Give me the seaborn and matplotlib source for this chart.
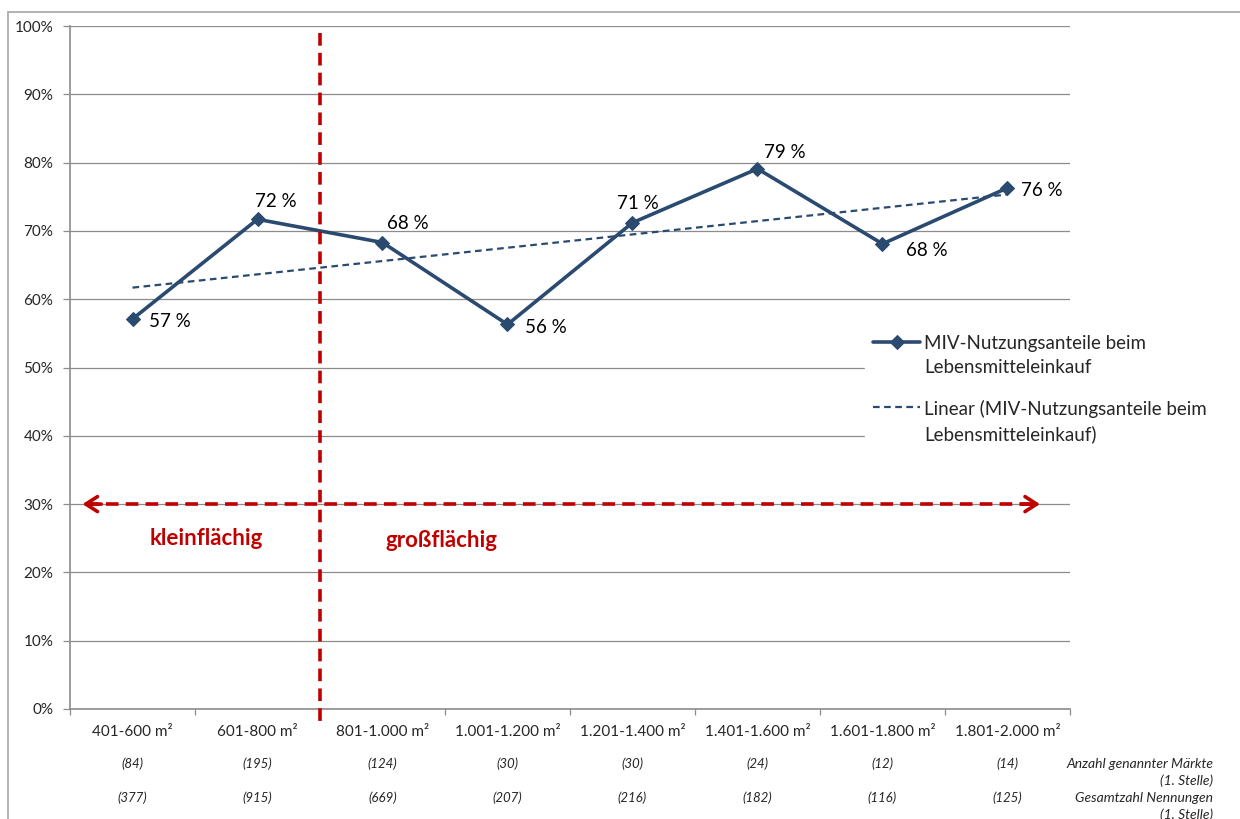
import numpy as np
import pandas as pd
import seaborn as sns
import matplotlib.pyplot as plt
from matplotlib.patches import Rectangle

# --- data ---------------------------------------------------------------
categories = ["401-600 m²", "601-800 m²", "801-1.000 m²", "1.001-1.200 m²",
              "1.201-1.400 m²", "1.401-1.600 m²", "1.601-1.800 m²", "1.801-2.000 m²"]
miv_share = [0.571, 0.717, 0.683, 0.563, 0.712, 0.791, 0.681, 0.763]
n_markets = [84, 195, 124, 30, 30, 24, 12, 14]
n_mentions = [377, 915, 669, 207, 216, 182, 116, 125]
y_ticks = [0.0, 0.1, 0.2, 0.3, 0.4, 0.5, 0.6, 0.7, 0.8, 0.9, 1.0]

series_name = "MIV-Nutzungsanteile beim\nLebensmitteleinkauf"
trend_name = "Linear (MIV-Nutzungsanteile beim\nLebensmitteleinkauf)"

NAVY = "#2B4A70"
RED = "#C00000"
GRID = "#8C8C8C"

sns.set_theme(style="white")
plt.rcParams["font.family"] = ["Lato", "DejaVu Sans"]

W, H = 1240, 819
fig = plt.figure(figsize=(W / 100, H / 100), dpi=100)
ax = fig.add_axes([70 / W, (H - 709) / H, 1000 / W, 683 / H])

df = pd.DataFrame({"pos": np.arange(len(categories)), "share": miv_share})

# linear trend of the series
k, d = np.polyfit(df["pos"], df["share"], 1)
df["trend"] = k * df["pos"] + d

sns.lineplot(data=df, x="pos", y="trend", ax=ax, color=NAVY, lw=1.6,
             linestyle=(0, (3, 2)), label=trend_name, zorder=3)
sns.lineplot(data=df, x="pos", y="share", ax=ax, color=NAVY, lw=2.6,
             marker="D", markersize=7, markeredgecolor=NAVY,
             label=series_name, zorder=4)

# axes
ax.set_xlim(-0.5, len(categories) - 0.5)
ax.set_ylim(0, 1)
ax.set_yticks(y_ticks)
ax.set_yticklabels([f"{int(round(t * 100))}%" for t in y_ticks], fontsize=11)
ax.yaxis.grid(True, color=GRID, lw=0.9)
ax.set_axisbelow(True)
for side in ["top", "right"]:
    ax.spines[side].set_visible(False)
for side in ["left", "bottom"]:
    ax.spines[side].set_color(GRID)
    ax.spines[side].set_linewidth(1.2)
ax.tick_params(axis="y", length=5, color=GRID, width=0.9, pad=7, left=True)
ax.set_xticks(np.arange(-0.5, len(categories), 1.0))
ax.set_xticklabels([])
ax.tick_params(axis="x", length=4, color=GRID, width=0.9, bottom=True)
ax.set_xlabel("")
ax.set_ylabel("")

# category labels and the two count rows below the axis
ytr = ax.get_xaxis_transform()
for i, (c, m, n) in enumerate(zip(categories, n_markets, n_mentions)):
    ax.text(i, -0.034, c, transform=ytr, ha="center", va="center", fontsize=11)
    ax.text(i, -0.080, f"({m})", transform=ytr, ha="center", va="center",
            fontsize=9.5, style="italic")
    ax.text(i, -0.130, f"({n})", transform=ytr, ha="center", va="center",
            fontsize=9.5, style="italic")
for yy, txt in [(764, "Anzahl genannter Märkte"), (781, "(1. Stelle)"),
                (798, "Gesamtzahl Nennungen"), (815, "(1. Stelle)")]:
    fig.text(1213 / W, 1 - yy / H, txt, ha="right", va="center",
             fontsize=10, style="italic")

# value labels (offsets in points)
offsets = [(12, -1.5), (-2, 12.5), (3, 14), (12.5, -2),
           (-11.5, 14), (5, 12), (17, -4.5), (10, -2)]
for i, (v, (dx, dy)) in enumerate(zip(miv_share, offsets)):
    ax.annotate(f"{int(round(v * 100))} %", (i, v), xytext=(dx, dy),
                textcoords="offset points", ha="left", va="center", fontsize=13.5,
                color="black", zorder=6)

# size-class divider and double arrow
ax.plot([1.5, 1.5], [0.99, -0.023], color=RED, lw=2.6, linestyle=(0, (3.5, 2)),
        clip_on=False, zorder=5)
x_left, x_right = -0.40, 7.26
ax.plot([x_left + 0.03, x_right - 0.03], [0.30, 0.30], color=RED, lw=2.6,
        linestyle=(0, (3.5, 2)), zorder=5)
for x0, x1 in [(x_left + 0.15, x_left), (x_right - 0.15, x_right)]:
    ax.annotate("", xy=(x1, 0.30), xytext=(x0, 0.30),
                arrowprops=dict(arrowstyle="->,head_length=0.7,head_width=0.45",
                                color=RED, lw=2.6, shrinkA=0, shrinkB=0),
                zorder=5)
ax.text(0.59, 0.250, "kleinflächig", color=RED, fontsize=16, fontweight="bold",
        ha="center", va="center")
ax.text(2.47, 0.247, "großflächig", color=RED, fontsize=16, fontweight="bold",
        ha="center", va="center")

# legend
handles, labels = ax.get_legend_handles_labels()
order = [labels.index(series_name), labels.index(trend_name)]
leg = ax.legend([handles[j] for j in order], [labels[j] for j in order],
                loc="upper left", bbox_to_anchor=(865 / W, 1 - 327 / H),
                bbox_transform=fig.transFigure, frameon=True, fontsize=13.5,
                handlelength=2.5, handletextpad=0.2, labelspacing=1.3,
                borderpad=0.45, borderaxespad=0)
for t in leg.get_texts():
    t.set_linespacing(1.45)
# put each legend key level with the first line of its label
try:
    for col in leg._legend_handle_box.get_children():
        for item in col.get_children():
            item.align = "top"
except AttributeError:
    pass
leg.get_frame().set_facecolor("white")
leg.get_frame().set_edgecolor("white")
leg.get_frame().set_alpha(1)

# outer chart frame
fig.patches.append(Rectangle((8 / W, -0.05), 1.1, 1 - 12 / H + 0.05,
                             transform=fig.transFigure, fill=False,
                             edgecolor="#A6A6A6", lw=1.2))

fig.savefig("out.png", dpi=100, facecolor="white")
